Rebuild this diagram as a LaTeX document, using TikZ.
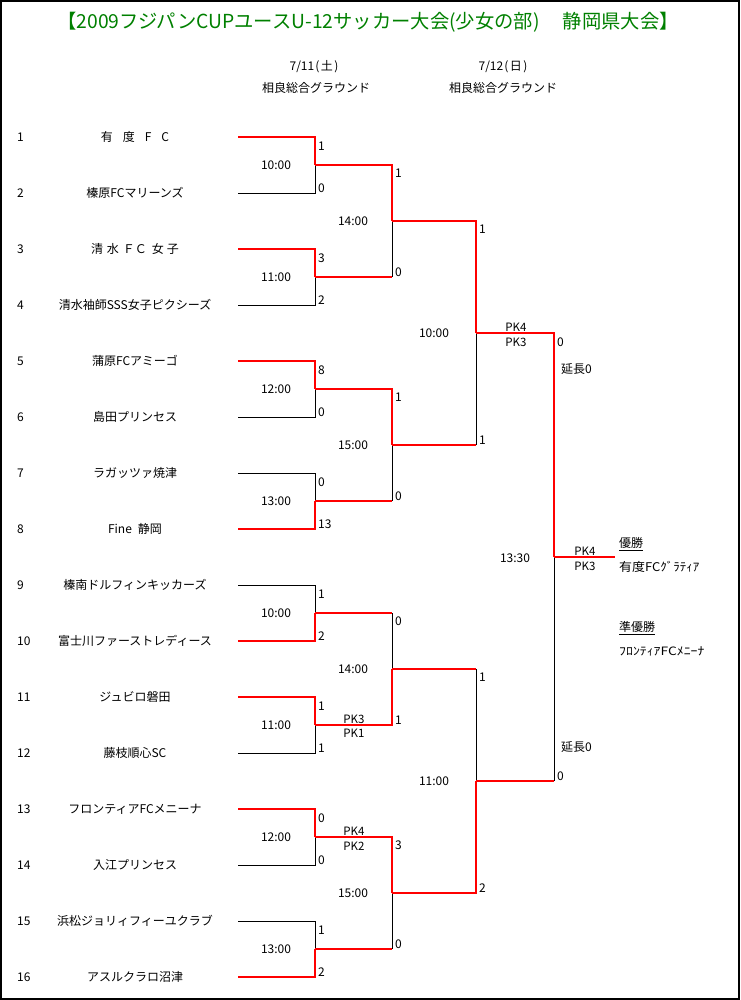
\documentclass[tikz,border=0pt]{standalone}
\usepackage{fontspec}
\setmainfont{Noto Sans CJK JP}
\definecolor{ttlgreen}{RGB}{0,128,0}
\definecolor{brred}{RGB}{255,0,0}
\begin{document}
\begin{tikzpicture}[x=1pt,y=-1pt,
  win/.style={draw=brred,line width=2pt},
  lose/.style={draw=black,line width=0.9pt},
  lbl/.style={inner sep=0pt,font=\fontsize{12}{12}\selectfont},
  lblw/.style={lbl,anchor=west},
  pk/.style={inner sep=0pt,font=\fontsize{11.5}{11.5}\selectfont}]
\useasboundingbox (0,0) rectangle (740,1000);
\draw[line width=2pt] (1,1) rectangle (739,999);

% title and headers
\node[inner sep=0pt,font=\fontsize{19.3}{19.3}\selectfont,text=ttlgreen] (title) at (368,22)
  {【2009フジパンCUPユースU-12サッカー大会(少女の部)　\hspace{4pt}静岡県大会】};
\node[lbl] (d1) at (314,67) {7/11\hspace{1pt}(\hspace{1.5pt}土\hspace{1.5pt})};
\node[lbl] (g1) at (316,88) {相良総合グラウンド};
\node[lbl] (d2) at (503,67) {7/12\hspace{1pt}(\hspace{1.5pt}日\hspace{1.5pt})};
\node[lbl] (g2) at (503,88) {相良総合グラウンド};

% coordinates
\foreach \i in {1,...,16} {
  \pgfmathsetmacro\yy{137+56*(\i-1)}
  \coordinate (t\i) at (238,\yy);
}
\foreach \k in {1,...,8} {
  \pgfmathsetmacro\yy{165+112*(\k-1)}
  \coordinate (a\k) at (315,\yy);
}
\foreach \k in {1,...,4} {
  \pgfmathsetmacro\yy{221+224*(\k-1)}
  \coordinate (b\k) at (392,\yy);
}
\coordinate (c1) at (476,333);
\coordinate (c2) at (476,781);
\coordinate (f) at (554,557);
\coordinate (w) at (615,557);

% team numbers and names
\foreach \i/\nm in {
  1/{有\hspace{10pt}度\hspace{10pt}F\hspace{10pt}C},
  2/{榛原FCマリーンズ},
  3/{清\hspace{4pt}水\hspace{4pt}ＦＣ\hspace{5pt}女\hspace{3pt}子},
  4/{清水袖師SSS女子ピクシーズ},
  5/{蒲原FCアミーゴ},
  6/{島田プリンセス},
  7/{ラガッツァ焼津},
  8/{Fine\hspace{6pt}静岡},
  9/{榛南ドルフィンキッカーズ},
  10/{富士川ファーストレディース},
  11/{ジュビロ磐田},
  12/{藤枝順心SC},
  13/{フロンティアFCメニーナ},
  14/{入江プリンセス},
  15/{浜松ジョリィフィーユクラブ},
  16/{アスルクラロ沼津}} {
  \pgfmathsetmacro\yy{137+56*(\i-1)}
  \node[lblw] (k\i) at (17,\yy) {\i};
  \node[lbl] (n\i) at (135,\yy) {\nm};
}

% ---- round 1
\foreach \t/\m in {2/1,4/2,6/3,7/4,9/5,12/6,14/7,15/8} {
  \draw[lose] (t\t) -| (a\m);
}
\foreach \t/\m in {1/1,3/2,5/3,8/4,10/5,11/6,13/7,16/8} {
  \draw[win] (t\t) -| (a\m);
}
% ---- round 2 (loser verticals black, all horizontals red)
\foreach \l/\m in {a2/b1,a4/b2,a5/b3,a8/b4} {
  \draw[lose] (\l -| \m) -- (\m);
  \draw[win] (\l) -- (\l -| \m);
}
\foreach \v/\m in {a1/b1,a3/b2,a6/b3,a7/b4} {
  \draw[win] (\v) -| (\m);
}
% ---- round 3
\foreach \l/\m in {b2/c1,b3/c2} {
  \draw[lose] (\l -| \m) -- (\m);
  \draw[win] (\l) -- (\l -| \m);
}
\foreach \v/\m in {b1/c1,b4/c2} {
  \draw[win] (\v) -| (\m);
}
% ---- final
\draw[lose] (c2 -| f) -- (f);
\draw[win] (c2) -- (c2 -| f);
\draw[win] (c1) -| (f);
\draw[win] (f) -- (w);

% scores round 1
\foreach \s/\yy [count=\j] in {1/146,0/188,3/258,2/300,8/370,0/412,0/482,13/524,
    1/594,2/636,1/706,1/748,0/818,0/860,1/930,2/972} {
  \node[lblw] (s1x\j) at (318,\yy) {\s};
}
% scores round 2
\foreach \s/\yy [count=\j] in {1/173,0/272,1/397,0/496,0/621,1/720,3/845,0/944} {
  \node[lblw] (s2x\j) at (395,\yy) {\s};
}
% scores round 3
\foreach \s/\yy [count=\j] in {1/229,1/440,1/677,2/888} {
  \node[lblw] (s3x\j) at (479,\yy) {\s};
}
% final scores
\node[lblw] (sf1) at (557,342) {0};
\node[lblw] (sf2) at (557,776) {0};
\node[lblw] (ex1) at (561,369) {延長0};
\node[lblw] (ex2) at (561,747) {延長0};

% times
\foreach \tm/\yy [count=\j] in {10:00/165,11:00/277,12:00/389,13:00/501,10:00/613,11:00/725,12:00/837,13:00/949} {
  \node[lbl] (tm1x\j) at (276,\yy) {\tm};
}
\foreach \tm/\yy [count=\j] in {14:00/221,15:00/445,14:00/669,15:00/893} {
  \node[lbl] (tm2x\j) at (353,\yy) {\tm};
}
\node[lbl] (tm3x1) at (434,333) {10:00};
\node[lbl] (tm3x2) at (434,781) {11:00};
\node[lbl] (tmf) at (515,558) {13:30};

% PK labels
\node[pk] (pka) at (354,719) {PK3};
\node[pk] (pkb) at (354,733) {PK1};
\node[pk] (pkc) at (354,831) {PK4};
\node[pk] (pkd) at (354,846) {PK2};
\node[pk] (pke) at (516,327) {PK4};
\node[pk] (pkf) at (516,342) {PK3};
\node[pk] (pkg) at (585,551) {PK4};
\node[pk] (pkh) at (585,566) {PK3};

% results
\node[lblw] (champ) at (619,544) {\underline{優勝}};
\node[lblw] (champn) at (619,567) {\scalebox{1.08}[1]{有度FCｸﾞﾗﾃｨｱ}};
\node[lblw] (runner) at (619,628) {\underline{準優勝}};
\node[inner sep=0pt,anchor=west,font=\fontsize{11.5}{11.5}\selectfont] (runnern) at (619,651) {\scalebox{1.2}[1]{ﾌﾛﾝﾃｨｱFCﾒﾆｰﾅ}};
\end{tikzpicture}
\end{document}
